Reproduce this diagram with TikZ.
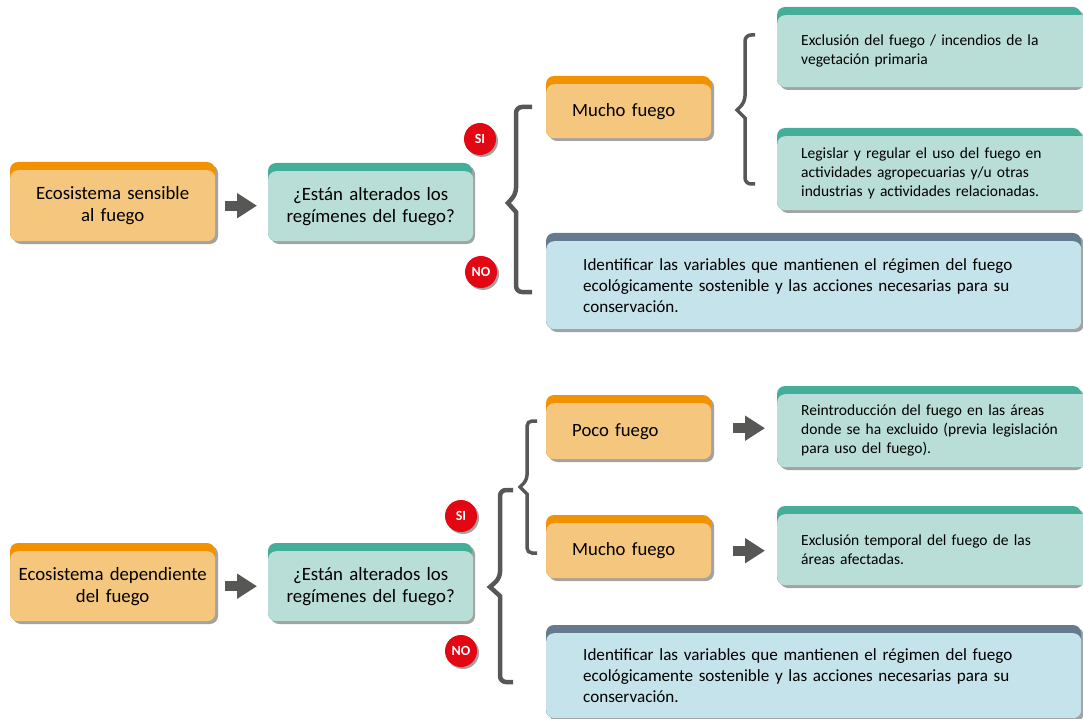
\documentclass[tikz,border=0pt]{standalone}
\usepackage{fontspec}
\setmainfont{Carlito}
\usetikzlibrary{arrows.meta,calc,shadows}
\definecolor{orD}{HTML}{F39200}
\definecolor{orL}{HTML}{F5C67D}
\definecolor{teD}{HTML}{45AE99}
\definecolor{teL}{HTML}{B9DDD7}
\definecolor{slD}{HTML}{647A8F}
\definecolor{slL}{HTML}{C5E3EA}
\definecolor{shd}{HTML}{A3A3A3}
\definecolor{brc}{HTML}{575756}
\definecolor{badgered}{HTML}{E30613}
\newcommand\diagbox[9]{%
  \fill[shd, rounded corners=8pt] (#2+3,#3+3) rectangle (#4+3,#5+3);
  \fill[#6, rounded corners=8pt] (#2,#3) rectangle (#4,#5);
  \node[fill=#7, rounded corners=8pt, anchor=north west, minimum width=#4pt-#2pt,
        minimum height=#5pt-#3pt-8pt, #8] (#1) at (#2,#3+8) {#9};
}
\tikzset{
  ctext/.style={align=center, text width=195pt, inner xsep=5pt, font=\fontsize{18.8}{22}\selectfont},
  ltext/.style n args={2}{align=left, inner xsep=#1, text width=#2},
  bigfont/.style={font=\fontsize{18.7}{22}\selectfont},
  smallfont/.style={font=\fontsize{15.5}{19}\selectfont},
  midfont/.style={font=\fontsize{17.1}{21}\selectfont},
  badge/.style={circle, fill=badgered, text=white, inner sep=0pt, minimum size=32pt,
    font=\bfseries\fontsize{14}{16}\selectfont,
    drop shadow={shadow xshift=2pt, shadow yshift=-2pt, fill=shd, opacity=1}},
  blockarrow/.style={draw=brc, line width=10pt, -{Triangle[length=20pt,width=24pt]}},
  bigbrace/.style={draw=brc, line width=4.5pt},
  smallbrace/.style={draw=brc, line width=3.5pt},
}
\begin{document}
\begin{tikzpicture}[x=1pt,y=-1pt]
\path[use as bounding box] (0,0) rectangle (1083,719);
\clip (0,0) rectangle (1083,719);
% ---------- top part ----------
\diagbox{eA}{10}{162}{215}{241}{orD}{orL}{ctext}{Ecosistema sensible\\al fuego}
\diagbox{qA}{268}{163}{472}{241}{teD}{teL}{ctext}{¿Están alterados los\\regímenes del fuego?}
\diagbox{muA}{546}{76}{711}{138}{orD}{orL}{bigfont,ltext={26pt}{113pt}}{Mucho fuego}
\diagbox{exA}{777}{7}{1081}{87}{teD}{teL}{smallfont,ltext={24pt}{275pt}}{Exclusión del fuego / incendios de la\\vegetación primaria}
\diagbox{leA}{777}{128}{1081}{210}{teD}{teL}{smallfont,ltext={24pt}{275pt}}{Legislar y regular el uso del fuego en\\actividades agropecuarias y/u otras\\industrias y actividades relacionadas.}
\diagbox{idA}{546}{233}{1081}{329}{slD}{slL}{midfont,ltext={37pt}{461pt}}{Identificar las variables que mantienen el régimen del fuego\\ecológicamente sostenible y las acciones necesarias para su\\conservación.}
\draw[blockarrow] ([xshift=10pt]eA.east) -- ([xshift=-11pt]eA.east -| qA.west);
\node[badge] (siA) at (480,139) {SI};
\node[badge] (noA) at (481,272) {NO};
\draw[bigbrace] (532,107) [rounded corners=6pt] -- (516,107) -- (516,194) [sharp corners] -- (508,203) -- (516,212) [rounded corners=6pt] -- (516,292) -- (532,292);
\draw[smallbrace] (755,35) [rounded corners=6pt] -- (745,35) -- (745,102) [sharp corners] -- (737,110) -- (745,118) [rounded corners=6pt] -- (745,184) -- (755,184);
% ---------- bottom part ----------
\diagbox{eB}{10}{543}{215}{621}{orD}{orL}{ctext}{Ecosistema dependiente\\del fuego}
\diagbox{qB}{268}{543}{472}{621}{teD}{teL}{ctext}{¿Están alterados los\\regímenes del fuego?}
\diagbox{poB}{546}{395}{711}{459}{orD}{orL}{bigfont,ltext={26pt}{113pt}}{Poco fuego}
\diagbox{muB}{546}{515}{711}{578}{orD}{orL}{bigfont,ltext={26pt}{113pt}}{Mucho fuego}
\diagbox{reB}{777}{386}{1081}{467}{teD}{teL}{smallfont,ltext={24pt}{275pt}}{Reintroducción del fuego en las áreas\\donde se ha excluido (previa legislación\\para uso del fuego).}
\diagbox{exB}{777}{506}{1081}{585}{teD}{teL}{smallfont,ltext={24pt}{275pt}}{Exclusión temporal del fuego de las\\áreas afectadas.}
\diagbox{idB}{546}{625}{1081}{718}{slD}{slL}{midfont,ltext={37pt}{461pt}}{Identificar las variables que mantienen el régimen del fuego\\ecológicamente sostenible y las acciones necesarias para su\\conservación.}
\draw[blockarrow] ([xshift=10pt]eB.east) -- ([xshift=-11pt]eB.east -| qB.west);
\draw[blockarrow] ($(poB.east)+(22,-3)$) -- ($(poB.east -| reB.west)+(-12,-3)$);
\draw[blockarrow] ($(muB.east)+(22,0)$) -- ($(muB.east -| exB.west)+(-12,0)$);
\node[badge] (siB) at (461,516) {SI};
\node[badge] (noB) at (461,651) {NO};
\draw[bigbrace] (513,490) [rounded corners=6pt] -- (500,490) -- (500,578) [sharp corners] -- (490,587) -- (500,596) [rounded corners=6pt] -- (500,682) -- (513,682);
\draw[smallbrace] (537,421) [rounded corners=5pt] -- (527,421) -- (527,480) [sharp corners] -- (520,487) -- (527,494) [rounded corners=5pt] -- (527,553) -- (537,553);
\end{tikzpicture}
\end{document}
